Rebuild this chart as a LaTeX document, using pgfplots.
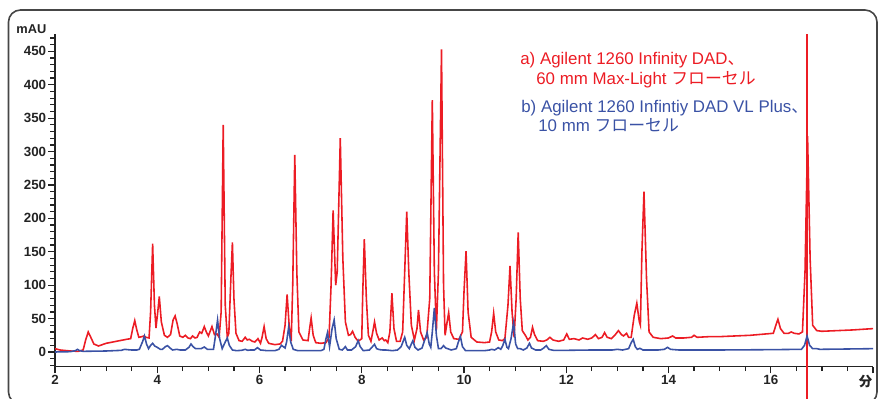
\documentclass[border=0pt]{standalone}
\usepackage{fontspec}
\setmainfont{Liberation Sans}
\newfontfamily\jp{Noto Sans CJK JP}
\usepackage{pgfplots}
\pgfplotsset{compat=1.18}

\definecolor{traceA}{RGB}{236,28,36}
\definecolor{traceB}{RGB}{58,82,165}
\definecolor{frame}{RGB}{70,70,70}
\definecolor{tickcol}{RGB}{35,35,35}

\begin{document}
\begin{tikzpicture}
% fixed page extent: 878 x 399 units of 0.2 mm
\useasboundingbox (0,0) rectangle (175.6mm,-79.8mm);
% rounded frame and texts (1 unit = 0.2 mm, y downward)
\begin{scope}[x=0.2mm,y=-0.2mm]
  \draw[frame, line width=0.9pt, rounded corners=2.4mm] (8.5,10) rectangle (877,404);
  \node[anchor=base west, inner sep=0pt, font=\bfseries\fontsize{7.3}{8}\selectfont, text=tickcol] at (16,34) {mAU};
  \begin{scope}[font=\fontsize{9.6}{11}\selectfont]
    \node[anchor=base west, inner sep=0pt, text=traceA] at (520,65) {a) Agilent 1260 Infinity DAD{\jp 、}};
    \node[anchor=base west, inner sep=0pt, text=traceA] at (536,85) {60 mm Max-Light {\jp フローセル}};
    \node[anchor=base west, inner sep=0pt, text=traceB] at (521,113) {b) Agilent 1260 Infintiy DAD VL Plus{\jp 、}};
    \node[anchor=base west, inner sep=0pt, text=traceB] at (538,132) {10 mm {\jp フローセル}};
  \end{scope}
\end{scope}

\begin{axis}[
  at={(11mm,-73.34mm)}, anchor=south west,
  scale only axis, width=163.6mm, height=66.54mm,
  xmin=2, xmax=18, ymin=-22, ymax=476,
  clip=false,
  axis x line=bottom, axis y line=left,
  axis line style={-, line width=0.9pt, tickcol},
  tick style={line width=0.7pt, tickcol},
  tick align=outside,
  major tick length=1.35mm, minor tick length=0.9mm,
  xtick={2,4,...,16},
  minor xtick={2.5,3,...,17.5},
  extra x ticks={18},
  extra x tick labels={{\jp 分}},
  extra x tick style={xticklabel style={xshift=-1.5mm}},
  ytick={0,50,...,450},
  minor ytick={-20,-10,...,470},
  /pgf/number format/assume math mode=true,
  ticklabel style={font=\bfseries\fontsize{7.6}{9}\selectfont, text=tickcol},
  xticklabel style={inner sep=1pt},
  yticklabel style={inner sep=1pt},
]
% cursor line at the last main peak
\addplot[draw={rgb,255:red,236;green,28;blue,36}, line width=1.1pt, forget plot] coordinates {(16.715,-72) (16.715,476)};
% a) 60 mm Max-Light cell
\addplot[traceA, line width=0.9pt] coordinates {
(2.00,5) (2.10,3) (2.30,1.5) (2.45,1) (2.55,3) (2.60,18) (2.65,30) (2.70,22)
(2.76,12) (2.85,9) (3.00,13) (3.20,16) (3.40,19) (3.48,20) (3.52,35) (3.56,47)
(3.60,33) (3.64,22) (3.70,23) (3.74,24) (3.78,22) (3.84,21) (3.87,60) (3.91,162)
(3.945,70) (3.975,36) (4.01,60) (4.04,83) (4.08,45) (4.14,25) (4.20,22) (4.26,26)
(4.31,48) (4.35,54) (4.39,42) (4.44,24) (4.50,22) (4.55,25) (4.60,21) (4.65,20)
(4.69,24) (4.74,21) (4.78,22) (4.83,30) (4.87,28) (4.92,38) (4.96,30) (5.00,24)
(5.07,38) (5.12,26) (5.17,27) (5.21,22) (5.25,60) (5.29,340) (5.33,70) (5.37,22)
(5.40,28) (5.44,110) (5.47,164) (5.50,80) (5.54,28) (5.60,17) (5.66,16) (5.72,22)
(5.76,18) (5.80,19) (5.86,16) (5.91,15) (5.97,20) (6.02,13) (6.05,22) (6.09,38)
(6.13,20) (6.18,13) (6.30,11) (6.40,12) (6.45,16) (6.50,40) (6.54,86) (6.58,40)
(6.62,16) (6.65,100) (6.69,295) (6.73,120) (6.77,30) (6.85,18) (6.95,17) (6.98,35)
(7.01,51) (7.05,25) (7.10,14) (7.20,13) (7.30,14) (7.36,22) (7.40,100) (7.44,212)
(7.49,100) (7.52,120) (7.58,320) (7.63,140) (7.68,45) (7.74,25) (7.78,26) (7.82,31)
(7.87,22) (7.93,16) (8.00,20) (8.02,90) (8.05,169) (8.09,80) (8.13,25) (8.18,16)
(8.22,32) (8.25,45) (8.29,28) (8.34,18) (8.40,21) (8.44,17) (8.47,18) (8.51,14)
(8.55,30) (8.59,88) (8.63,35) (8.68,16) (8.75,16) (8.80,30) (8.84,120) (8.88,210)
(8.92,120) (8.97,40) (9.03,18) (9.08,35) (9.11,63) (9.15,30) (9.21,18) (9.27,22)
(9.33,80) (9.38,377) (9.42,120) (9.46,33) (9.50,120) (9.56,453) (9.60,100) (9.63,25)
(9.67,45) (9.70,59) (9.74,30) (9.80,20) (9.90,19) (9.97,30) (10.00,90) (10.04,151)
(10.08,60) (10.14,22) (10.25,15) (10.40,14) (10.50,15) (10.54,30) (10.58,58) (10.62,30)
(10.68,18) (10.75,17) (10.80,20) (10.86,70) (10.90,129) (10.94,60) (10.98,22) (11.02,80)
(11.06,179) (11.10,80) (11.14,32) (11.20,25) (11.25,18) (11.30,22) (11.34,37) (11.38,26)
(11.44,17) (11.55,16) (11.62,18) (11.68,22) (11.74,18) (11.85,16) (11.95,18) (12.01,27)
(12.06,19) (12.15,20) (12.25,18) (12.32,21) (12.42,19) (12.50,21) (12.57,26) (12.63,20)
(12.70,22) (12.75,29) (12.80,22) (12.88,20) (12.96,26) (13.02,32) (13.08,26) (13.12,24)
(13.18,28) (13.22,22) (13.27,22) (13.33,55) (13.38,73) (13.43,45) (13.45,40) (13.48,150)
(13.52,240) (13.57,110) (13.62,30) (13.70,22) (13.85,20) (14.00,21) (14.08,24) (14.14,21)
(14.30,21) (14.45,22) (14.50,25) (14.56,22) (14.80,23) (15.00,23) (15.30,24) (15.60,25)
(15.90,27) (16.05,28) (16.10,40) (16.14,49) (16.19,35) (16.26,28) (16.35,28) (16.40,30)
(16.46,28) (16.55,27) (16.62,30) (16.67,120) (16.72,323) (16.77,140) (16.82,40) (16.90,32)
(17.00,31) (17.30,32) (17.60,33) (18.00,35)
};
% b) 10 mm cell
\addplot[traceB, line width=0.9pt] coordinates {
(2.00,0) (2.30,0.5) (2.40,2) (2.44,4) (2.48,2) (2.55,1) (3.00,1.5) (3.30,2.5)
(3.36,4) (3.42,3.5) (3.50,3) (3.60,3) (3.65,4) (3.71,15) (3.75,24) (3.79,12)
(3.83,5) (3.87,10) (3.91,13) (3.95,9) (4.00,7) (4.06,4) (4.10,4) (4.16,8)
(4.20,9.5) (4.25,6) (4.30,3) (4.38,4) (4.45,3) (4.55,3) (4.62,7) (4.66,12)
(4.70,8) (4.75,5) (4.80,5) (4.86,5) (4.92,7.5) (4.98,4) (5.05,4) (5.10,4)
(5.14,25) (5.18,48) (5.22,20) (5.27,5) (5.33,15) (5.37,21) (5.41,10) (5.47,3)
(5.55,2) (5.65,2.5) (5.72,4) (5.77,2.5) (5.82,3) (5.90,3) (5.96,6.5) (6.02,3)
(6.15,2) (6.30,2) (6.38,4) (6.43,10) (6.50,6) (6.53,15) (6.57,37) (6.61,15)
(6.66,4) (6.75,2) (7.00,2) (7.20,2) (7.26,4) (7.30,20) (7.33,29) (7.37,8)
(7.42,35) (7.46,48) (7.50,20) (7.56,4) (7.62,3) (7.68,8) (7.72,3) (7.80,3)
(7.88,8) (7.93,17) (7.97,8) (8.03,2) (8.15,3) (8.21,8) (8.25,11.5) (8.29,5)
(8.35,3.5) (8.41,3) (8.47,3) (8.60,2) (8.70,3) (8.77,8) (8.84,22) (8.88,10)
(8.93,5) (8.97,12) (9.00,17) (9.04,7) (9.10,3) (9.18,6) (9.24,20) (9.28,29)
(9.32,12) (9.35,7) (9.38,30) (9.42,66) (9.46,25) (9.50,5) (9.55,5) (9.60,9.5)
(9.64,6) (9.68,5) (9.75,3) (9.85,5) (9.89,15) (9.93,23) (9.97,8) (10.03,2)
(10.20,2) (10.40,2) (10.50,3) (10.54,4) (10.60,3) (10.67,6.5) (10.72,4) (10.76,10)
(10.80,19) (10.84,7) (10.87,5) (10.92,20) (10.97,44) (11.01,12) (11.05,5) (11.10,5)
(11.16,3) (11.23,6) (11.28,13) (11.32,6) (11.40,3) (11.50,3) (11.56,6) (11.61,9.5)
(11.66,4) (11.75,2.5) (12.00,2.5) (12.50,3) (12.90,3) (13.00,4) (13.10,3) (13.22,5)
(13.27,14) (13.31,19) (13.35,8) (13.39,4) (13.44,5.5) (13.50,3) (13.80,3) (13.92,4)
(13.98,7) (14.04,4) (14.20,3) (15.00,3) (16.00,3.5) (16.60,4) (16.66,10) (16.71,24)
(16.76,10) (16.82,5) (16.90,5) (16.96,4) (17.50,4.5) (18.00,5)
};
\end{axis}
\end{tikzpicture}
\end{document}
